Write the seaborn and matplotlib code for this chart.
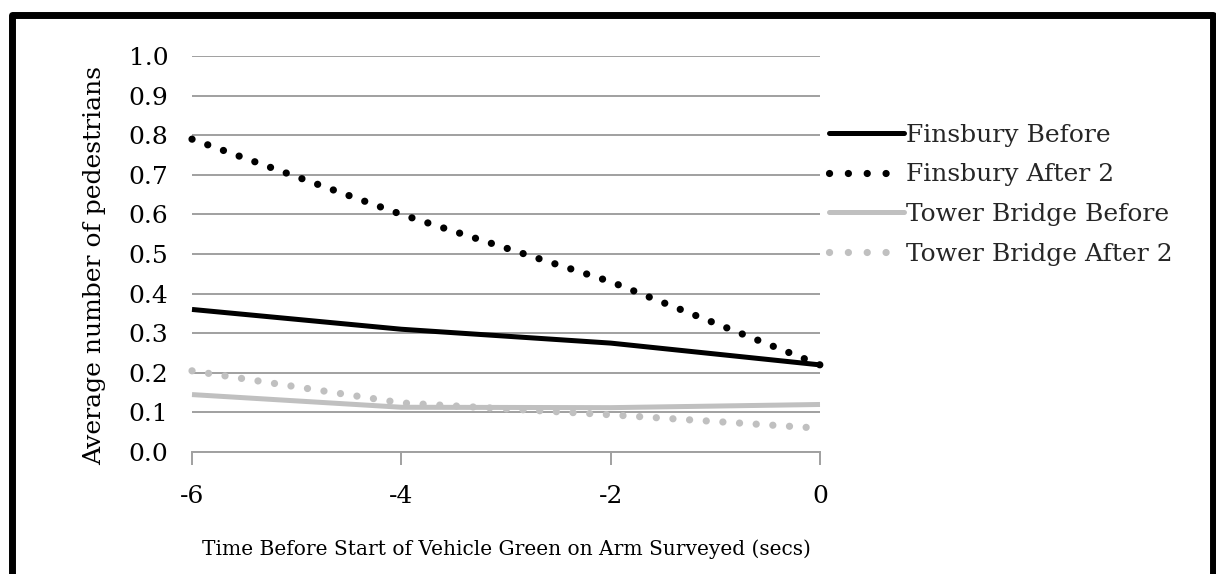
import matplotlib
matplotlib.use("Agg")
import matplotlib.pyplot as plt
from matplotlib.patches import Rectangle
from matplotlib.lines import Line2D
import seaborn as sns
import pandas as pd

# Seconds before the vehicle green starts
time_secs = [-6, -4, -2, 0]

finsbury_before = [0.36, 0.31, 0.275, 0.22]
finsbury_after2 = [0.79, 0.60, 0.43, 0.22]
tower_before = [0.145, 0.113, 0.112, 0.12]
tower_after2 = [0.205, 0.124, 0.094, 0.06]

series_names = ["Finsbury Before", "Finsbury After 2",
                "Tower Bridge Before", "Tower Bridge After 2"]
series_values = [finsbury_before, finsbury_after2, tower_before, tower_after2]

df = pd.concat(
    [pd.DataFrame({"time": time_secs, "value": vals, "series": name})
     for name, vals in zip(series_names, series_values)],
    ignore_index=True,
)

sns.set_theme(style="white")
plt.rcParams["font.family"] = ["DejaVu Serif"]

W, H = 1216, 574
fig = plt.figure(figsize=(W / 100, H / 100), dpi=100)
ax = fig.add_axes([192 / W, 1 - 452 / H, (820 - 192) / W, (452 - 56) / H])

dot_style = (0, (0.01, 2.3))
styles = {
    "Finsbury Before": dict(color="black", lw=3.6, ls="-"),
    "Finsbury After 2": dict(color="black", lw=5.2, ls=dot_style),
    "Tower Bridge Before": dict(color="#c0c0c0", lw=3.6, ls="-"),
    "Tower Bridge After 2": dict(color="#c0c0c0", lw=5.2, ls=dot_style),
}

handles = []
for name in series_names:
    st = styles[name]
    sub = df[df["series"] == name]
    sns.lineplot(data=sub, x="time", y="value", ax=ax, color=st["color"],
                 linewidth=st["lw"], linestyle=st["ls"], legend=False,
                 zorder=3)
    line = ax.lines[-1]
    line.set_dash_capstyle("round")
    line.set_solid_capstyle("butt")
    line.set_clip_on(False)
    # legend keys: dotted keys show four dots, solid keys a full bar
    key_ls = (0, (0.01, 2.6)) if st["ls"] != "-" else "-"
    h = Line2D([], [], color=st["color"], lw=st["lw"], ls=key_ls,
               dash_capstyle="round", solid_capstyle="round")
    handles.append(h)

ax.set_xlim(-6, 0)
ax.set_ylim(0, 1.0)
ax.set_xticks(time_secs)
ax.set_xticklabels([str(t) for t in time_secs])
ax.set_yticks([i / 10 for i in range(11)])
ax.set_yticklabels([f"{i / 10:.1f}" for i in range(11)])

ax.grid(axis="y", color="#a0a0a0", lw=1.4, zorder=0)
ax.grid(axis="x", visible=False)
for s in ["left", "right", "top"]:
    ax.spines[s].set_visible(False)
ax.spines["bottom"].set_color("#a0a0a0")
ax.spines["bottom"].set_linewidth(1.4)
ax.tick_params(axis="x", bottom=True, length=9, width=1.4, color="#a0a0a0",
               labelsize=18, pad=15, labelcolor="black")
ax.tick_params(axis="y", left=False, length=0, labelsize=18, pad=17,
               labelcolor="black")

ax.set_xlabel("Time Before Start of Vehicle Green on Arm Surveyed (secs)",
              fontsize=14.5, color="black", labelpad=22)
ax.set_ylabel("Average number of pedestrians", fontsize=18, color="black")
ax.yaxis.set_label_coords(-0.136, 0.47)

fig.legend(handles, series_names, loc="upper left",
           bbox_to_anchor=(829 / W, 1 - 124 / H), frameon=False, fontsize=18,
           handlelength=3.0, handletextpad=0.08, labelspacing=0.66,
           borderaxespad=0, borderpad=0)

# Heavy frame around the whole figure
fig.patches.append(Rectangle((11.5 / W, -20 / H), (1213 - 11.5) / W,
                             (H - 15 + 20) / H, transform=fig.transFigure,
                             fill=False, edgecolor="black", lw=5.0,
                             joinstyle="round"))

fig.savefig("out.png", dpi=100)
